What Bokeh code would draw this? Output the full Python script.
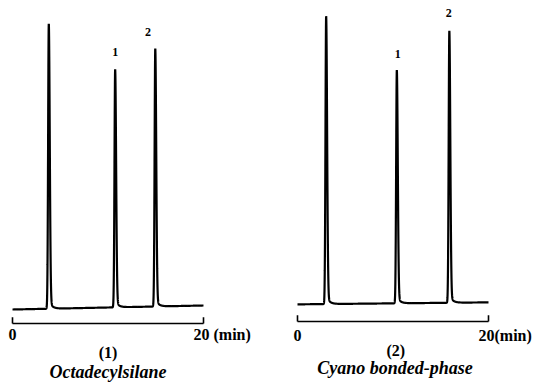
import numpy as np
from bokeh.plotting import figure
from bokeh.layouts import row
from bokeh.models import ColumnDataSource, Range1d
from bokeh.core.properties import value
from bokeh.embed import file_html
from bokeh.resources import INLINE

# ---- data ----
# Panel (1): Octadecylsilane column
ods_rt = [3.8, 10.75, 14.95]          # retention time, min (solvent, 1, 2)
ods_height = [100.0, 83.5, 90.5]      # relative peak height
ods_baseline = [-0.7, 0.7]            # baseline level at 0 and 20 min
ods_peak_names = ["1", "2"]
ods_scale_labels = ["0", "20 (min)"]
ods_panel = "(1)"
ods_title = "Octadecylsilane"

# Panel (2): Cyano bonded-phase column
cn_rt = [3.0, 10.4, 15.9]
cn_height = [101.0, 81.8, 95.4]
cn_baseline = [-0.3, 0.4]
cn_peak_names = ["1", "2"]
cn_scale_labels = ["0", "20(min)"]
cn_panel = "(2)"
cn_title = "Cyano bonded-phase"

scale_ticks = [0, 20]                 # time scale bracket, min

SERIF = value("Liberation Serif")


def trace(rts, heights, base):
    t = np.arange(0.0, 20.0001, 0.005)
    y = base[0] + (base[1] - base[0]) * t / 20.0
    for rt, h in zip(rts, heights):
        d = t - rt
        left = np.exp(-0.5 * (d / 0.07) ** 2)
        dp = np.clip(d, 0, None)
        right = 0.97 * np.exp(-0.5 * (dp / 0.10) ** 2) + 0.03 * np.exp(-dp / 0.3)
        y = y + h * np.where(d < 0, left, right)
    return t, y


def panel(width, x0_px, y_base_px, rts, heights, base, names, label_pos,
          scale_labels, scale_y, scale_label_y, cap, cap_pos, title, title_pos):
    ppm = 9.55      # px per minute
    ppu = 2.85      # px per height unit
    H = 385
    xs = -x0_px / ppm
    ys = -(H - y_base_px) / ppu
    p = figure(width=width, height=H, output_backend="svg", toolbar_location=None,
               x_range=Range1d(xs, xs + width / ppm),
               y_range=Range1d(ys, ys + H / ppu),
               min_border=0, outline_line_color=None,
               x_axis_location=None, y_axis_location=None)
    p.xgrid.visible = False
    p.ygrid.visible = False
    p.background_fill_color = "white"
    p.border_fill_color = "white"

    t, y = trace(rts, heights, base)
    p.line(t, y, line_color="black", line_width=2.2)

    # time-scale bracket
    p.segment(x0=[scale_ticks[0]], y0=[scale_y], x1=[scale_ticks[1]], y1=[scale_y],
              line_color="black", line_width=1.6)
    p.segment(x0=scale_ticks, y0=[scale_y] * 2, x1=scale_ticks, y1=[scale_y + 2.2] * 2,
              line_color="black", line_width=1.6)

    p.text(x=[scale_ticks[0]], y=[scale_label_y], text=[scale_labels[0]],
           text_align="center", text_baseline="middle", text_font=SERIF,
           text_font_style="bold", text_font_size="16px")
    p.text(x=[scale_ticks[1]], y=[scale_label_y], text=[scale_labels[1]], x_offset=-10,
           text_align="left", text_baseline="middle", text_font=SERIF,
           text_font_style="bold", text_font_size="16px")

    # peak numbers
    src = ColumnDataSource(dict(x=[q[0] for q in label_pos], y=[q[1] for q in label_pos], t=names))
    p.text(x="x", y="y", text="t", source=src, text_align="center", text_baseline="middle",
           text_font=SERIF, text_font_style="bold", text_font_size="12px")

    p.text(x=[cap_pos[0]], y=[cap_pos[1]], text=[cap], text_align="center",
           text_baseline="middle", text_font=SERIF, text_font_style="bold",
           text_font_size="16px")
    p.text(x=[title_pos[0]], y=[title_pos[1]], text=[title], text_align="center",
           text_baseline="middle", text_font=SERIF, text_font_style="bold italic",
           text_font_size="18px")
    return p


p1 = panel(270, 12, 307, ods_rt, ods_height, ods_baseline, ods_peak_names,
           [(10.75, 89.5), (14.2, 96.5)], ods_scale_labels, -5.6, -9.6,
           ods_panel, (10.0, -15.8), ods_title, (10.0, -22.8))
p2 = panel(263, 27, 303, cn_rt, cn_height, cn_baseline, cn_peak_names,
           [(10.5, 87.7), (15.85, 101.8)], cn_scale_labels, -6.3, -11.2,
           cn_panel, (10.3, -16.5), cn_title, (10.2, -22.8))

layout = row(p1, p2, spacing=0)
open("out.html", "w").write(file_html(layout, INLINE))
